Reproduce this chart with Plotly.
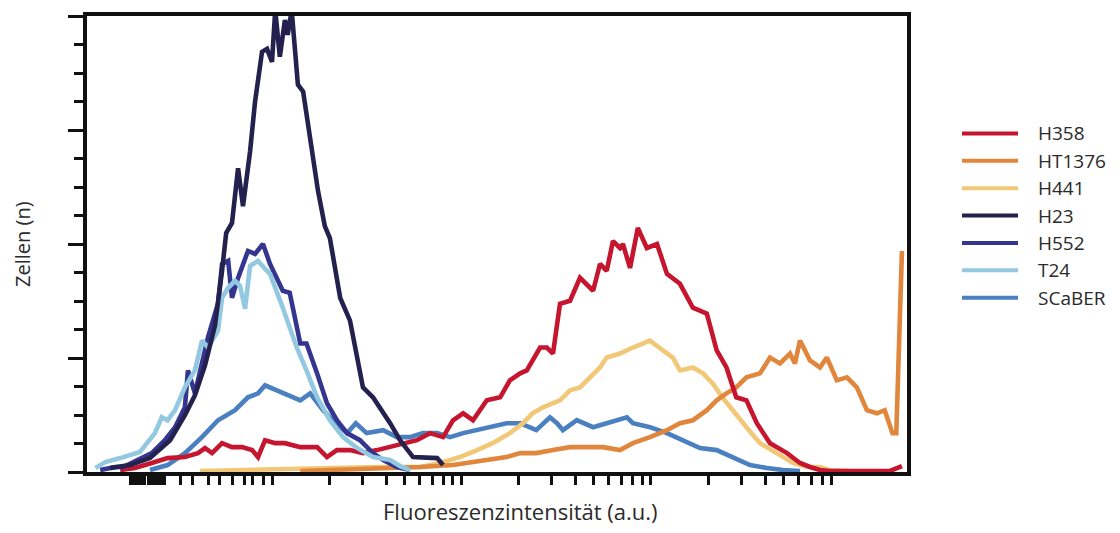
import plotly.graph_objects as go

# Fluorescence intensity (a.u., log scale) and cell counts per cell line
h358_x = [1.58, 1.89, 2.32, 2.81, 3.47, 4.07, 4.43, 4.83, 5.45, 6.15, 6.95, 7.85, 8.44, 9.19, 10.4, 11.7,
          14.1, 17.3, 19.5, 22.0, 25.8, 30.2, 35.8, 42.0, 49.2, 58.2, 68.2, 79.9, 90.2, 102, 115, 136,
          160, 180, 204, 221, 260, 282, 304, 331, 374, 422, 495, 538, 584, 630, 686, 711, 775, 852,
          951, 1076, 1214, 1422, 1664, 1971, 2222, 2502, 2818, 3189, 3618, 4246, 5220, 6113, 6903,
          7794, 8801, 18250, 21100]
h358_y = [1.7, 3.5, 7.9, 12.2, 13.1, 16.6, 21.0, 16.6, 25.3, 21.8, 21.8, 19.2, 13.1, 27.9, 25.3, 25.3,
          21.8, 21.8, 13.1, 19.2, 19.2, 16.6, 19.2, 21.8, 25.3, 27.9, 34.1, 30.6, 45.4, 51.5, 45.4, 62.9,
          65.5, 80.4, 86.5, 89.1, 109.2, 109.2, 103.9, 147.6, 150.2, 170.3, 159.0, 182.5, 176.4, 202.6,
          196.5, 200.0, 179.0, 214.0, 196.5, 200.0, 173.8, 165.1, 144.1, 138.9, 106.6, 91.7, 65.5, 62.9,
          42.8, 25.3, 16.6, 7.9, 4.4, 1.7, 0.9, 0.9, 5.2]

ht1376_x = [14.1, 37.2, 60.4, 90.2, 136, 173, 204, 248, 304, 374, 459, 557, 686, 803, 988, 1214, 1422,
            1664, 1971, 2222, 2502, 2818, 3189, 3760, 4246, 4794, 5413, 5750, 6113, 6903, 7794, 8470,
            9570, 10810, 12200, 13780, 15560, 17110, 18800, 19700, 21100]
ht1376_y = [0.9, 2.6, 4.4, 6.1, 10.5, 13.1, 16.6, 16.6, 19.2, 21.8, 21.8, 21.8, 19.2, 25.3, 30.6, 36.7,
            42.8, 45.4, 54.2, 62.9, 69.0, 74.2, 83.0, 86.5, 100.4, 95.2, 103.9, 95.2, 115.3, 97.8, 91.7,
            100.4, 80.4, 83.0, 74.2, 54.2, 51.5, 54.2, 34.1, 34.1, 193.9]

h441_x = [4.17, 8.64, 20.2, 37.2, 60.4, 77.0, 98.2, 121, 146, 180, 211, 237, 269, 331, 374, 422, 477,
          538, 584, 686, 803, 988, 1157, 1304, 1422, 1664, 1880, 2116, 2383, 2685, 3189, 3760, 4616,
          5614, 6648, 7794, 8801, 11220]
h441_y = [0.9, 1.7, 3.5, 4.4, 4.4, 7.9, 13.1, 19.2, 25.3, 34.1, 42.8, 51.5, 56.8, 62.9, 71.6, 74.2, 83.0,
          91.7, 100.4, 103.9, 109.2, 115.3, 106.6, 100.4, 89.1, 91.7, 86.5, 77.7, 65.5, 54.2, 39.3, 25.3,
          16.6, 7.9, 4.4, 4.4, 1.7, 0.9]

h23_x = [1.40, 1.78, 2.27, 2.90, 3.47, 3.92, 4.43, 5.00, 5.45, 5.73, 6.15, 6.62, 7.03, 7.66, 8.14, 8.86,
         9.41, 10.0, 10.4, 11.0, 11.7, 12.1, 12.7, 13.2, 13.7, 14.6, 15.9, 17.5, 19.0, 20.2, 22.9, 25.8,
         30.2, 34.1, 42.0, 47.4, 55.5, 64.3, 74.4, 79.9]
h23_y = [3.5, 6.1, 12.2, 27.9, 49.8, 67.3, 93.5, 128.4, 176.4, 209.6, 218.4, 266.4, 233.2, 281.2, 324.9,
         368.6, 371.2, 359.8, 405, 364.2, 396.5, 383.4, 405, 368.6, 339.8, 333.6, 290.0, 246.3, 215.7,
         205.2, 152.8, 132.8, 74.2, 65.5, 42.8, 27.9, 13.1, 12.2, 12.2, 6.1]

h552_x = [1.24, 1.49, 1.64, 1.96, 2.32, 2.72, 3.08, 3.47, 3.60, 3.92, 4.27, 4.59, 5.00, 5.19, 5.45, 5.87,
          6.15, 6.62, 7.47, 8.14, 8.96, 9.76, 11.4, 12.4, 14.1, 15.2, 17.3, 19.5, 22.0, 24.9, 29.1, 34.1,
          38.6, 45.6, 53.5]
h552_y = [1.7, 4.4, 4.4, 10.5, 16.6, 27.9, 39.3, 56.8, 89.1, 69.0, 95.2, 117.9, 138.9, 147.6, 182.5,
          185.2, 152.8, 170.3, 193.9, 191.3, 200.0, 182.5, 159.0, 157.2, 112.7, 112.7, 86.5, 60.3, 45.4,
          34.1, 27.9, 16.6, 10.5, 4.4, 1.7]

t24_x = [1.17, 1.32, 1.58, 2.01, 2.41, 2.62, 2.81, 3.08, 3.47, 3.92, 4.27, 4.59, 5.19, 5.45, 5.87, 6.38,
         6.78, 7.21, 7.66, 8.44, 9.19, 9.76, 11.4, 13.5, 15.2, 17.3, 20.2, 23.7, 27.7, 34.1, 42.0, 47.4,
         53.5]
t24_y = [3.5, 8.7, 12.2, 17.5, 34.1, 48.0, 45.4, 54.2, 74.2, 89.1, 115.3, 109.2, 124.0, 152.8, 161.6,
         167.7, 163.3, 143.2, 180.8, 185.2, 178.2, 173.8, 144.1, 109.2, 89.1, 65.5, 45.4, 30.6, 21.8,
         13.1, 10.5, 5.2, 1.7]

scaber_x = [2.27, 2.81, 3.47, 4.27, 5.19, 6.38, 7.47, 8.44, 9.19, 9.76, 10.7, 11.7, 14.1, 15.9, 18.6,
            20.9, 24.9, 27.7, 31.6, 38.6, 45.6, 53.5, 62.7, 74.4, 87.0, 102, 136, 173, 204, 248, 293,
            319, 343, 406, 495, 584, 630, 746, 803, 988, 1214, 1474, 1814, 2222, 2685, 3330, 4088,
            4973, 6113]
scaber_y = [1.7, 6.1, 16.6, 30.6, 45.4, 54.2, 65.5, 69.0, 76.0, 74.2, 71.6, 69.0, 62.9, 69.0, 54.2, 45.4,
            34.1, 42.8, 34.1, 36.7, 30.6, 30.6, 34.1, 34.1, 30.6, 34.1, 39.3, 42.8, 42.8, 36.7, 48.0,
            42.8, 36.7, 45.4, 39.3, 42.8, 45.4, 48.0, 42.8, 39.3, 34.1, 27.9, 21.0, 19.2, 13.1, 6.1, 3.5,
            1.7, 0.9]

# Legend order, colours
series_names = ["H358", "HT1376", "H441", "H23", "H552", "T24", "SCaBER"]
series_colors = ["#c5152f", "#e0873d", "#f1c877", "#25214f", "#34358e", "#92c9e1", "#4a7fc0"]
series_data = {
    "H358": (h358_x, h358_y),
    "HT1376": (ht1376_x, ht1376_y),
    "H441": (h441_x, h441_y),
    "H23": (h23_x, h23_y),
    "H552": (h552_x, h552_y),
    "T24": (t24_x, t24_y),
    "SCaBER": (scaber_x, scaber_y),
}
draw_order = ["SCaBER", "H441", "HT1376", "H358", "H552", "T24", "H23"]

# Tick positions on the intensity axis (no labels shown)
x_tick_values = [1.80, 1.84, 1.88, 1.92, 1.96, 2.00, 2.04, 2.08, 2.12,
                 2.24, 2.30, 2.36, 2.42, 2.48, 2.54, 2.60, 2.66, 2.72,
                 3.3, 3.8, 4.6, 5.3, 6.2, 7.2, 7.9, 9.0,
                 10, 20, 30, 40, 50, 60, 70, 80, 90,
                 100, 200, 300, 400, 500, 600, 700, 800, 900,
                 1000, 2000, 3000, 4000, 5000, 6000, 7000, 8000, 9000]

color_of = dict(zip(series_names, series_colors))

fig = go.Figure()
for name in draw_order:
    xs, ys = series_data[name]
    fig.add_trace(go.Scatter(
        x=xs, y=ys, mode="lines", name=name,
        line=dict(color=color_of[name], width=4.6),
        showlegend=False,
    ))

# Legend block: coloured line + label per cell line
leg_y0 = 0.7424
leg_step = 0.0600
for i, (name, col) in enumerate(zip(series_names, series_colors)):
    yy = leg_y0 - i * leg_step
    fig.add_shape(type="line", xref="paper", yref="paper",
                  x0=1.0671, x1=1.1354, y0=yy, y1=yy,
                  line=dict(color=col, width=4))
    fig.add_annotation(xref="paper", yref="paper", x=1.1573, y=yy,
                       text=name, showarrow=False, xanchor="left", yanchor="middle",
                       font=dict(family="Open Sans", size=19, color="#2a2a2a"))

fig.add_annotation(xref="paper", yref="paper", x=0.529, y=-0.048,
                   text="Fluoreszenzintensität (a.u.)", showarrow=False,
                   xanchor="center", yanchor="top",
                   font=dict(family="Open Sans", size=22, color="#2a2a2a"))
fig.add_annotation(xref="paper", yref="paper", x=-0.0793, y=0.5,
                   text="Zellen (n)", showarrow=False, textangle=-90,
                   xanchor="center", yanchor="middle",
                   font=dict(family="Open Sans", size=20, color="#2a2a2a"))

fig.update_layout(
    width=1120, height=533,
    margin=dict(l=87, r=213, t=14, b=61),
    paper_bgcolor="white", plot_bgcolor="white",
    showlegend=False,
    xaxis=dict(
        type="log", range=[0.0237, 4.351],
        showgrid=False, zeroline=False,
        showline=True, linewidth=4, linecolor="#111111", mirror=True,
        ticks="outside", tickmode="array", tickvals=x_tick_values,
        ticklen=9, tickwidth=3, tickcolor="#111111",
        showticklabels=False,
    ),
    yaxis=dict(
        range=[0, 400],
        showgrid=False, zeroline=False,
        showline=True, linewidth=4, linecolor="#111111", mirror=True,
        ticks="outside", tickmode="linear", tick0=0, dtick=100,
        ticklen=15, tickwidth=3, tickcolor="#111111",
        showticklabels=False,
        minor=dict(ticks="outside", tickmode="linear", tick0=0, dtick=25,
                   ticklen=9, tickwidth=3, tickcolor="#111111"),
    ),
)

fig.write_html("out.html")
